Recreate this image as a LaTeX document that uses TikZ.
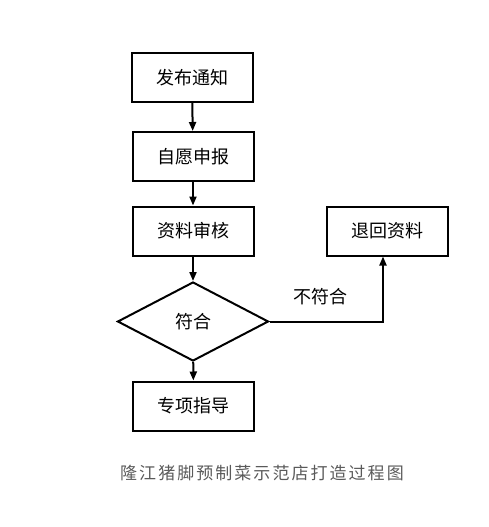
\documentclass[tikz,border=0pt]{standalone}
\usepackage{fontspec}
\newfontfamily\cjk{Noto Sans CJK SC}
\newfontfamily\cjkcap[LetterSpace=12]{Noto Sans CJK SC}
\usepackage{xcolor}
\usetikzlibrary{arrows.meta,positioning,calc,shapes.geometric}
\definecolor{captiongray}{HTML}{5A5A5A}
\begin{document}
\begin{tikzpicture}[x=1pt,y=-1pt,line width=2pt,
  stepbox/.style={draw,rectangle,minimum width=121pt,minimum height=49pt,inner sep=0pt,font=\cjk\fontsize{18}{20}\selectfont},
  checkbox/.style={draw,diamond,minimum width=151pt,minimum height=79pt,inner sep=0pt,font=\cjk\fontsize{18}{20}\selectfont},
  flow/.style={-{Triangle[length=9pt,width=7pt]}}]
		% fix page size
		\useasboundingbox (0,0) rectangle (488,527);
		% draw boxes
		\node[stepbox] (notice) at (192,77.5) {发布通知};
		\node[stepbox] (apply) at (193,156.5) {自愿申报};
		\node[stepbox] (review) at (193,231) {资料审核};
		\node[checkbox] (match) at (193,321.5) {符合};
		\node[stepbox] (guide) at (193.5,406) {专项指导};
		\node[stepbox] (back) at (387.5,231) {退回资料};
		% draw arrows
		\draw[flow] (notice) -- (apply);
		\draw[flow] (apply) -- (review);
		\draw[flow] (review) -- (match);
		\draw[flow] (match) -- (guide);
		\draw[flow] (match.east) -| ([xshift=-4.5pt]back.south);
		% draw labels
		\node[font=\cjk\fontsize{18}{20}\selectfont] (nomatch) at (320,297) {不符合};
		\node[font=\cjkcap\fontsize{17}{20}\selectfont,text=captiongray] (caption) at (262,473) {隆江猪脚预制菜示范店打造过程图};
\end{tikzpicture}
\end{document}
